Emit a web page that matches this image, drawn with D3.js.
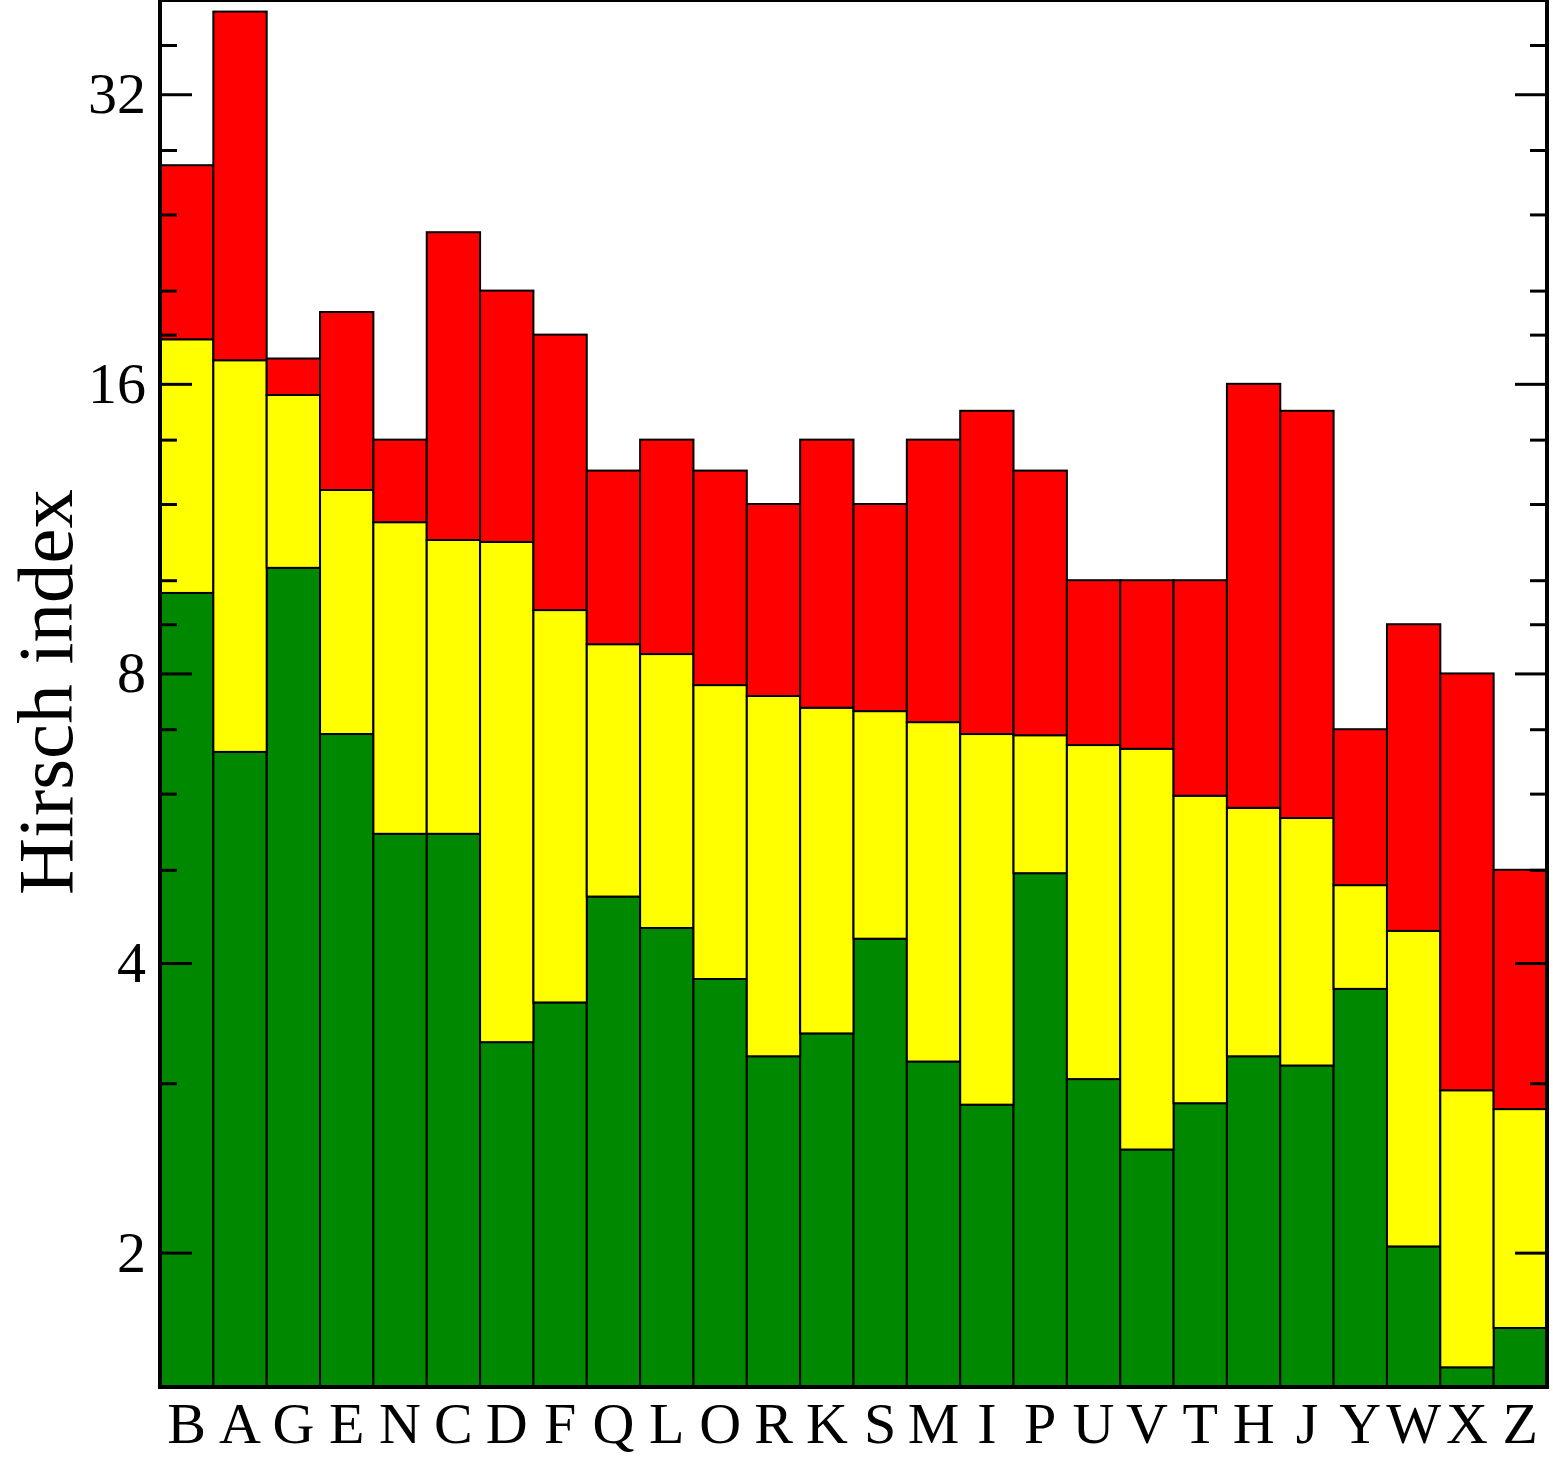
<!DOCTYPE html>
<html>
<head>
<meta charset="utf-8">
<script src="https://cdn.jsdelivr.net/npm/d3@7"></script>
<style>
  body { margin: 0; background: #fff; }
</style>
</head>
<body>
<div id="chartDiv"></div>
<script>

// categories, in the order they appear along x
var names = ["B","A","G","E","N","C","D","F","Q","L","O","R","K","S","M","I","P","U","V","T","H","J","Y","W","X","Z"];

// stacked segments (green at the bottom, then yellow, then red on top)
var green  = [9.70, 6.63, 10.30, 6.92, 5.45, 5.45, 3.31, 3.64, 4.69, 4.35, 3.85, 3.20, 3.38, 4.24, 3.16, 2.85, 4.96, 3.03, 2.56, 2.86, 3.20, 3.13, 3.76, 2.03, 1.52, 1.67];
var yellow = [8.10, 10.30, 5.28, 5.49, 6.04, 5.56, 7.65, 5.67, 3.89, 4.03, 3.93, 4.38, 3.99, 3.07, 3.96, 4.07, 1.94, 3.71, 4.12, 3.11, 2.60, 2.53, 1.06, 2.29, 1.43, 1.15];
var red    = [9.20, 22.07, 1.42, 6.59, 2.51, 11.99, 9.04, 8.69, 4.42, 5.62, 5.22, 4.42, 6.63, 4.69, 6.88, 8.08, 6.10, 3.26, 3.32, 4.03, 10.20, 9.34, 2.18, 4.68, 5.05, 2.18];

// y axis ticks (log2 scale)
var majorTicks = [2, 4, 8, 16, 32];
var minorTicks = [3, 5, 6, 7, 9, 10, 12, 14, 18, 20, 24, 28, 36];

var yMin = 1.45, yMax = 40;

var keys = ["green", "yellow", "red"];
var colors = {green: "#008800", yellow: "#ffff00", red: "#ff0000"};

var data = names.map(function(n, i) {
    return {name: n, green: green[i], yellow: yellow[i], red: red[i]};
});

// dimensions and margins
var margin = {top: 1, right: 6, bottom: 74, left: 160},
    width = 1553 - margin.left - margin.right,
    height = 1461 - margin.top - margin.bottom;

var svg = d3.select("#chartDiv")
  .append("svg")
    .attr("width", 1553)
    .attr("height", 1461)
  .append("g")
    .attr("transform", "translate(" + margin.left + "," + margin.top + ")");

var x = d3.scaleBand()
    .domain(names)
    .range([0, width])
    .padding(0);

var y = d3.scaleLog()
    .base(2)
    .domain([yMin, yMax])
    .range([height, 0])
    .clamp(true);

var series = d3.stack().keys(keys)(data);

// bars
svg.append("g")
  .selectAll("g")
  .data(series)
  .enter().append("g")
    .attr("fill", function(d) { return colors[d.key]; })
  .selectAll("rect")
  .data(function(d) { return d; })
  .enter().append("rect")
    .attr("x", function(d) { return x(d.data.name); })
    .attr("y", function(d) { return y(d[1]); })
    .attr("width", x.bandwidth())
    .attr("height", function(d) { return y(Math.max(d[0], yMin)) - y(d[1]); })
    .attr("stroke", "#000")
    .attr("stroke-width", 2);

// left axis, ticks pointing inward
var gY = svg.append("g")
    .call(d3.axisLeft(y).tickValues(majorTicks).tickFormat(d3.format("d"))
        .tickSize(-32).tickPadding(14));

svg.append("g")
    .call(d3.axisLeft(y).tickValues(minorTicks).tickFormat("").tickSize(-17));

// right axis
var gR = svg.append("g")
    .attr("transform", "translate(" + width + ",0)")
    .call(d3.axisRight(y).tickValues(majorTicks).tickFormat("").tickSize(-32));

svg.append("g")
    .attr("transform", "translate(" + width + ",0)")
    .call(d3.axisRight(y).tickValues(minorTicks).tickFormat("").tickSize(-17));

svg.selectAll(".domain").remove();
svg.selectAll(".tick line").attr("stroke", "#000").attr("stroke-width", 3);

gY.selectAll(".tick text")
    .attr("font-size", 58)
    .attr("font-family", "'Liberation Serif', serif")
    .attr("fill", "#000");

// bottom axis labels
var gX = svg.append("g")
    .attr("transform", "translate(0," + height + ")")
    .call(d3.axisBottom(x).tickSize(0).tickPadding(0));

gX.select(".domain").remove();
gX.selectAll(".tick text")
    .attr("dy", null)
    .attr("y", 56)
    .attr("font-size", 58)
    .attr("font-family", "'Liberation Serif', serif")
    .attr("fill", "#000");

// frame
svg.append("line").attr("x1", 0).attr("x2", width).attr("y1", 0).attr("y2", 0)
    .attr("stroke", "#000").attr("stroke-width", 2);
svg.append("line").attr("x1", 0).attr("x2", 0).attr("y1", -1).attr("y2", height + 2)
    .attr("stroke", "#000").attr("stroke-width", 4);
svg.append("line").attr("x1", width).attr("x2", width).attr("y1", -1).attr("y2", height + 2)
    .attr("stroke", "#000").attr("stroke-width", 4);
svg.append("line").attr("x1", -2).attr("x2", width + 2).attr("y1", height).attr("y2", height)
    .attr("stroke", "#000").attr("stroke-width", 4);

// y title
svg.append("text")
    .attr("transform", "translate(" + (72 - margin.left) + "," + (692 - margin.top) + ") rotate(-90)")
    .attr("text-anchor", "middle")
    .attr("font-size", 79)
    .attr("font-family", "'Liberation Serif', serif")
    .attr("fill", "#000")
    .text("Hirsch index");

</script>
</body>
</html>
